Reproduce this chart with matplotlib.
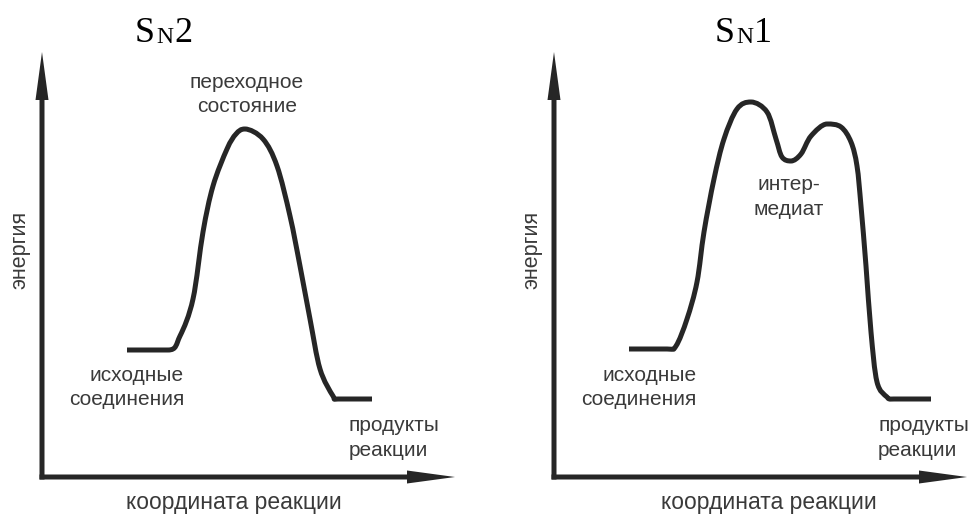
import matplotlib
matplotlib.use('Agg')
import matplotlib.pyplot as plt
from matplotlib.path import Path
from matplotlib.patches import PathPatch

W, H = 968, 515

# ---- data (reaction coordinate / energy in panel units) ----
sn2_x = [85, 126, 138, 151, 161, 171, 185, 194, 203, 221, 235, 248, 258, 268, 278, 291, 296, 330]
sn2_y = [127, 127, 141, 178, 245, 291, 328, 343, 348, 338, 311, 261, 211, 158, 108, 81, 78, 78]

sn1_x = [75, 113, 122, 133, 143, 150, 160, 170, 183, 197, 213, 222, 228, 237, 247, 257,
         273, 287, 297, 303, 307, 312, 317, 323, 333, 340, 377]
sn1_y = [128, 128, 131, 158, 195, 245, 298, 338, 368, 375, 365, 338, 320, 316, 323, 341,
         353, 350, 335, 311, 271, 211, 145, 95, 80, 78, 78]

titles = [("S", "N", "2"), ("S", "N", "1")]
y_label = "энергия"
x_label = "координата реакции"
sn2_labels = ["переходное", "состояние"]
sn1_labels = ["интер-", "медиат"]
start_labels = ["исходные", "соединения"]
end_labels = ["продукты", "реакции"]

LINE = '#262626'
TXT = '#3a3a3a'
FS = 15
FAM = ['Liberation Sans', 'DejaVu Sans']

fig = plt.figure(figsize=(W / 100, H / 100), dpi=100)
ov = fig.add_axes([0, 0, 1, 1])
ov.set_xlim(0, W)
ov.set_ylim(H, 0)
ov.axis('off')


def panel(ox, oy, xend, ytop):
    ax = fig.add_axes([ox / W, (H - oy) / H, (xend - ox) / W, (oy - ytop) / H])
    ax.set_xlim(0, xend - ox)
    ax.set_ylim(0, oy - ytop)
    ax.axis('off')
    ax.arrow(0, -2.5, 0, oy - ytop + 2.5, width=5, head_width=13, head_length=48,
             length_includes_head=True, color=LINE, clip_on=False, lw=0)
    ax.arrow(-2.5, 0, xend - ox + 2.5, 0, width=5, head_width=13, head_length=48,
             length_includes_head=True, color=LINE, clip_on=False, lw=0)
    return ax


def smooth_path(xs, ys):
    """Cubic Bezier path through the read points (no overshoot at flats/extrema)."""
    n = len(xs)
    tx, ty = [], []
    for i in range(n):
        a = max(i - 1, 0)
        b = min(i + 1, n - 1)
        dx = (xs[b] - xs[a]) / 2
        dy = (ys[b] - ys[a]) / 2
        if 0 < i < n - 1 and (ys[i] - ys[i - 1]) * (ys[i + 1] - ys[i]) <= 0:
            dy = 0
        if i == 0 or i == n - 1:
            dy = 0
        tx.append(dx)
        ty.append(dy)
    verts = [(xs[0], ys[0])]
    codes = [Path.MOVETO]
    for i in range(n - 1):
        c1 = (xs[i] + tx[i] / 3, ys[i] + ty[i] / 3)
        c2 = (xs[i + 1] - tx[i + 1] / 3, ys[i + 1] - ty[i + 1] / 3)
        verts += [c1, c2, (xs[i + 1], ys[i + 1])]
        codes += [Path.CURVE4] * 3
    return Path(verts, codes)


axL = panel(42, 477, 455, 52)
axR = panel(554, 477, 967, 52)

for ax, xs, ys in ((axL, sn2_x, sn2_y), (axR, sn1_x, sn1_y)):
    ax.add_patch(PathPatch(smooth_path(xs, ys), facecolor='none', edgecolor=LINE,
                           lw=3.6, joinstyle='round', capstyle='butt', clip_on=False))

fig.canvas.draw()
renderer = fig.canvas.get_renderer()


def title(parts, x0, base):
    x = x0
    sizes = [26, 17, 26]
    dys = [0, 1, 0]
    for p, s, dy in zip(parts, sizes, dys):
        t = ov.text(x, base + dy, p, fontsize=s, family='Liberation Serif',
                    ha='left', va='baseline', color='black')
        bb = t.get_window_extent(renderer=renderer)
        x += bb.width + 1


title(titles[0], 135, 42)
title(titles[1], 715, 42)

kw = dict(fontsize=FS, color=TXT, family=FAM, va='baseline')
kx = dict(fontsize=16.5, color=TXT, family=FAM, va='baseline', ha='center')
ky = dict(fontsize=15.5, color=TXT, family=FAM, ha='center', va='center', rotation=90)

# left panel
ov.text(247, 88, sn2_labels[0], ha='center', **kw)
ov.text(247, 112, sn2_labels[1], ha='center', **kw)
ov.text(184, 381, start_labels[0], ha='right', **kw)
ov.text(184, 405, start_labels[1], ha='right', **kw)
ov.text(349, 431, end_labels[0], ha='left', **kw)
ov.text(349, 456, end_labels[1], ha='left', **kw)
ov.text(234, 509, x_label, **kx)
ov.text(20, 250, y_label, **ky)

# right panel
ov.text(789, 190, sn1_labels[0], ha='center', **kw)
ov.text(789, 215, sn1_labels[1], ha='center', **kw)
ov.text(697, 381, start_labels[0], ha='right', **kw)
ov.text(697, 405, start_labels[1], ha='right', **kw)
ov.text(878, 431, end_labels[0], ha='left', **kw)
ov.text(878, 456, end_labels[1], ha='left', **kw)
ov.text(769, 509, x_label, **kx)
ov.text(532, 250, y_label, **ky)

fig.savefig('out.png', dpi=100)
